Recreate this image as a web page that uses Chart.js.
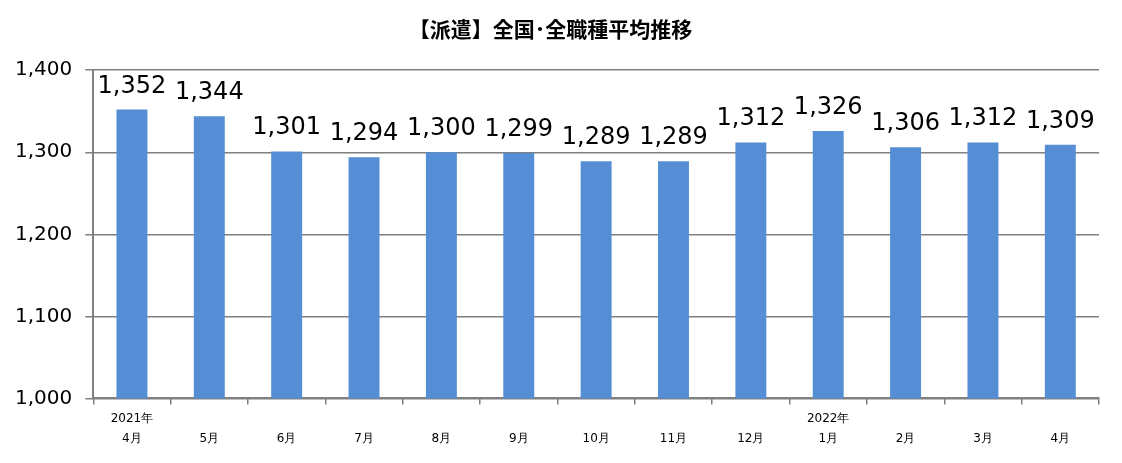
<!DOCTYPE html>
<html>
<head>
<meta charset="utf-8">
<script src="https://cdn.jsdelivr.net/npm/chart.js@4"></script>
<style>
  html, body { margin: 0; padding: 0; background: #fff; }
  #wrap { width: 1122px; height: 463px; }
</style>
</head>
<body>
<div id="wrap"><canvas id="myChart" width="1122" height="463"></canvas></div>
<script>
// data
var years  = ['2021年', '', '', '', '', '', '', '', '', '2022年', '', '', ''];
var months = ['4月', '5月', '6月', '7月', '8月', '9月', '10月', '11月', '12月', '1月', '2月', '3月', '4月'];
var values = [1352, 1344, 1301, 1294, 1300, 1299, 1289, 1289, 1312, 1326, 1306, 1312, 1309];

var labels = [];
for (var i = 0; i < months.length; i++) {
    labels.push([years[i], months[i]]);
}

// draw the value above each bar
var valueLabels = {
    id: 'valueLabels',
    afterDatasetsDraw: function (chart) {
        var ctx = chart.ctx;
        var meta = chart.getDatasetMeta(0);
        ctx.save();
        ctx.font = '24px "DejaVu Sans"';
        ctx.fillStyle = '#000';
        ctx.textAlign = 'center';
        ctx.textBaseline = 'alphabetic';
        meta.data.forEach(function (bar, i) {
            ctx.fillText(values[i].toLocaleString('en-US'), bar.x, bar.y - 17);
        });
        ctx.restore();
    }
};

Chart.defaults.font.family = '"DejaVu Sans", Verdana, sans-serif';
Chart.defaults.color = '#000';

const ctx = document.getElementById('myChart');
const myChart = new Chart(ctx, {
    type: 'bar',
    data: {
        labels: labels,
        datasets: [{
            data: values,
            backgroundColor: '#558ed5',
            categoryPercentage: 1,
            barPercentage: 0.4
        }]
    },
    options: {
        responsive: false,
        animation: false,
        layout: { padding: { left: 2, right: 23, top: 0, bottom: 9 } },
        plugins: {
            legend: { display: false },
            tooltip: { enabled: false },
            title: {
                display: true,
                text: '【派遣】全国･全職種平均推移',
                font: { family: '"Noto Sans CJK JP"', size: 21, weight: 'bold' },
                color: '#000',
                padding: { top: 16, bottom: 29 }
            }
        },
        scales: {
            x: {
                grid: {
                    drawOnChartArea: false,
                    color: '#808080',
                    lineWidth: 1.5,
                    tickLength: 6,
                    offset: true
                },
                border: { color: '#808080', width: 2 },
                ticks: {
                    autoSkip: false,
                    maxRotation: 0,
                    padding: 5,
                    font: { size: 12, lineHeight: 1.65 }
                }
            },
            y: {
                min: 1000,
                max: 1400,
                grid: { color: '#808080', lineWidth: 1.5, tickLength: 8 },
                border: { color: '#808080', width: 2 },
                ticks: {
                    stepSize: 100,
                    padding: 13,
                    font: { size: 20 },
                    callback: function (v) { return v.toLocaleString('en-US'); }
                }
            }
        }
    },
    plugins: [valueLabels]
});
</script>
</body>
</html>
